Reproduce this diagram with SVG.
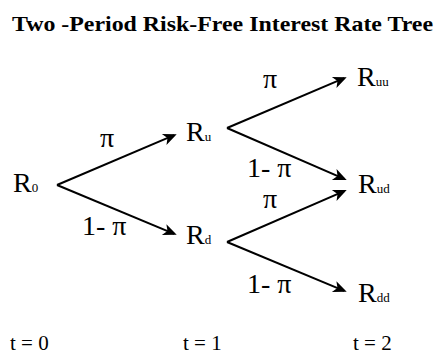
<svg xmlns="http://www.w3.org/2000/svg" width="437" height="361" viewBox="0 0 437 361">
<defs>
<marker id="arr" markerUnits="userSpaceOnUse" markerWidth="20" markerHeight="20" viewBox="-16 -10 22 20" refX="0" refY="0" orient="auto">
<path d="M3,0 L-12,-6.5 L-8,0 L-12,6.5 Z" fill="#000"/>
</marker>
</defs>
<style>
.t{font-family:"Liberation Serif","Times New Roman",serif;fill:#000}
.R{font-size:28px}
.s{font-size:13px}
.lab{font-size:28px}
.time{font-size:21px}
.title{font-family:"Liberation Serif","Times New Roman",serif;font-weight:bold;font-size:22px}
.e{stroke:#000;stroke-width:2;fill:none;marker-end:url(#arr)}
</style>
<rect width="437" height="361" fill="#fff"/>
<text class="title" x="12" y="31" textLength="421" lengthAdjust="spacingAndGlyphs">Two -Period Risk-Free Interest Rate Tree</text>
<g id="connectors">
<line class="e" x1="57" y1="185" x2="174.2" y2="135.2"/>
<line class="e" x1="57" y1="185" x2="174.2" y2="233.8"/>
<line class="e" x1="227" y1="128" x2="344.2" y2="78.2"/>
<line class="e" x1="227" y1="128" x2="344.2" y2="178.8"/>
<line class="e" x1="227" y1="242" x2="344.2" y2="191.2"/>
<line class="e" x1="227" y1="242" x2="344.2" y2="290.8"/>
<text class="t lab" x="100" y="147">π</text>
<text class="t lab" x="82" y="235">1- π</text>
<text class="t lab" x="263" y="88">π</text>
<text class="t lab" x="247" y="177">1- π</text>
<text class="t lab" x="263" y="208">π</text>
<text class="t lab" x="247" y="293">1- π</text>
</g>
<g id="R0"><text class="t R" x="13" y="192">R<tspan class="s">0</tspan></text></g>
<g id="Ru"><text class="t R" x="186" y="141">R<tspan class="s">u</tspan></text></g>
<g id="Rd"><text class="t R" x="186" y="244">R<tspan class="s">d</tspan></text></g>
<g id="Ruu"><text class="t R" x="357" y="86">R<tspan class="s">uu</tspan></text></g>
<g id="Rud"><text class="t R" x="358" y="193">R<tspan class="s">ud</tspan></text></g>
<g id="Rdd"><text class="t R" x="358" y="302">R<tspan class="s">dd</tspan></text></g>
<g id="time">
<text class="t time" x="10" y="350">t = 0</text>
<text class="t time" x="183" y="350">t = 1</text>
<text class="t time" x="353" y="350">t = 2</text>
</g>
</svg>
